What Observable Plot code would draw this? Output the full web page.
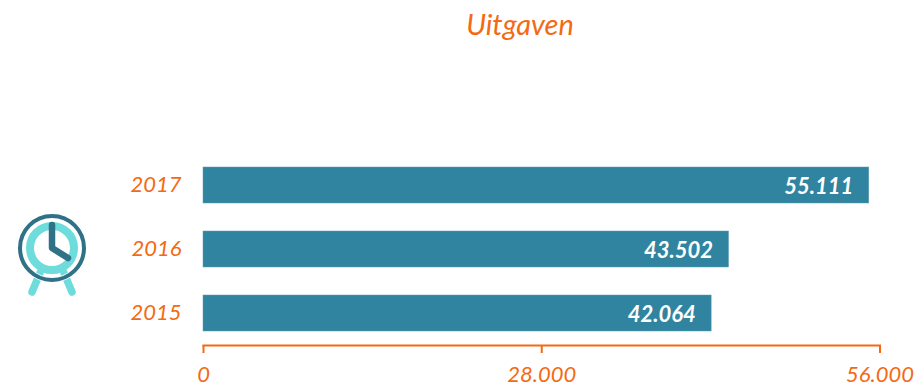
<!DOCTYPE html>
<html><head><meta charset="utf-8">
<script src="https://cdn.jsdelivr.net/npm/d3@7"></script>
<script src="https://cdn.jsdelivr.net/npm/@observablehq/plot@0.6"></script>
<style>
html,body{margin:0;padding:0;background:#fff}
#wrap{position:relative;width:915px;height:387px;overflow:hidden;font-family:Lato,sans-serif}
#title{position:absolute;left:0;top:6px;width:1040px;text-align:center;color:#f46a12;font:italic 29px Lato,sans-serif}
#icon{position:absolute;left:0;top:200px}
</style></head><body>
<div id="wrap">
<div id="title">Uitgaven</div>
<svg id="icon" width="100" height="110" viewBox="0 200 100 110" fill="none" stroke-linecap="round">
  <path d="M40 273L32 292M64 273L72 292" stroke="#6fdcdc" stroke-width="7.5"/>
  <circle cx="52" cy="248" r="22" stroke="#6fdcdc" stroke-width="8"/>
  <circle cx="52" cy="248" r="32" fill="none" stroke="#fff" stroke-width="5.5"/>
  <circle cx="52" cy="248" r="32" stroke="#2f7186" stroke-width="4"/>
  <path d="M52 225V248L68 258" stroke="#2f7186" stroke-width="6.5" stroke-linejoin="round"/>
</svg>
</div>
<script>
const years = ["2017", "2016", "2015"];
const values = [55111, 43502, 42064];
const xTicks = [0, 28000, 56000];
const orange = "#f46a12", teal = "#31849f";
const fmt = d => d3.format(",")(d).replace(/,/g, ".");
const rows = years.map((y, i) => ({year: y, value: values[i]}));

const plot = Plot.plot({
  width: 915, height: 387,
  marginLeft: 203, marginRight: 35.5, marginTop: 153, marginBottom: 42,
  style: {fontFamily: "Lato, sans-serif", background: "transparent"},
  x: {domain: [0, 56000], axis: null},
  y: {domain: years, paddingInner: 0.4375, paddingOuter: 0.21875, axis: null},
  marks: [
    Plot.barX(rows, {y: "year", x: "value", fill: teal, stroke: "#5a9db3", strokeWidth: 0.5}),
    Plot.text(rows, {y: "year", x: "value", text: d => fmt(d.value), textAnchor: "end", dx: -16, dy: 1,
      fill: "white", fontSize: 22, fontWeight: "bold", fontStyle: "italic"}),
    Plot.axisY({tickSize: 0, tickPadding: 22, dy: -1, fontSize: 22, fontStyle: "italic", color: orange, label: null}),
    Plot.frame({anchor: "bottom", stroke: orange, strokeWidth: 2}),
    Plot.axisX({ticks: xTicks, tickSize: 8, tickPadding: 13, tickFormat: fmt, fontSize: 22, fontStyle: "italic",
      color: orange, stroke: orange, strokeWidth: 2, label: null})
  ]
});
document.getElementById("wrap").prepend(plot);
</script>
</body></html>
